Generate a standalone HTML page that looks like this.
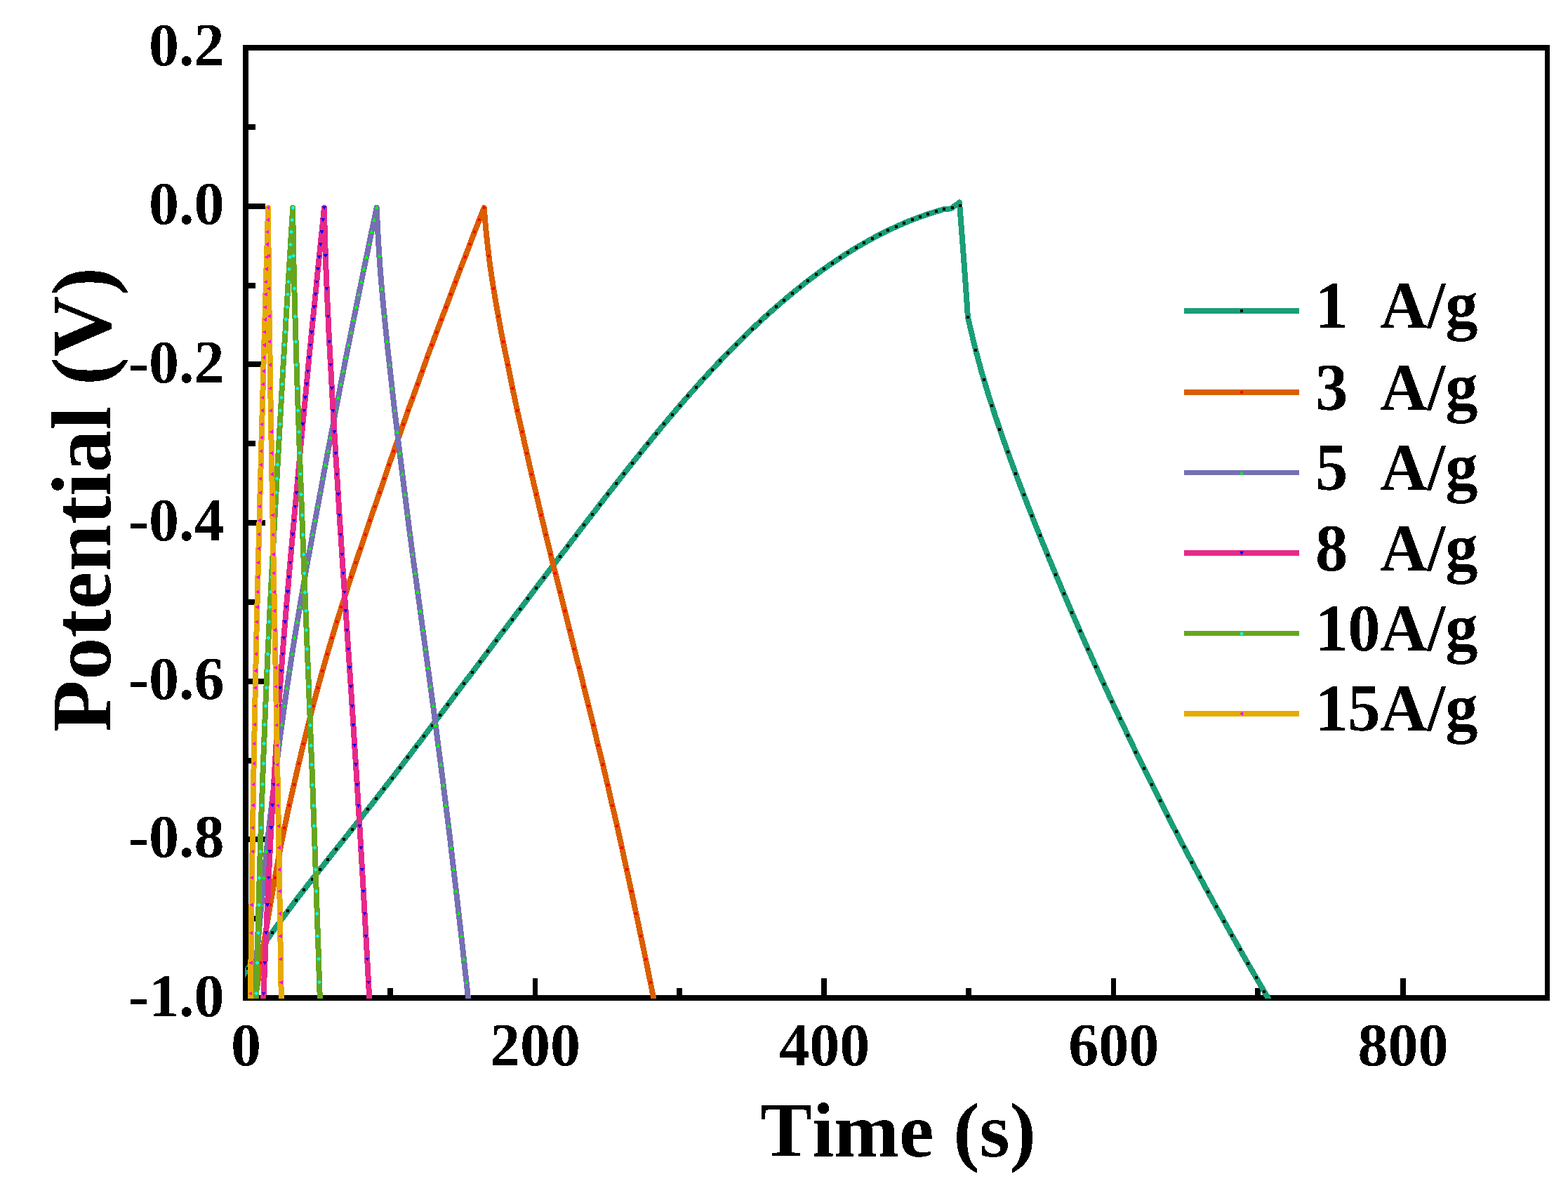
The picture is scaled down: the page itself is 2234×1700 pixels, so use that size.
<!DOCTYPE html>
<html lang="en"><head><meta charset="utf-8"><title>GCD curves</title>
<style>html,body{margin:0;padding:0;background:#fff}body{width:2234px;height:1700px;overflow:hidden}svg{display:block}text{font-family:"Liberation Serif",serif;font-weight:bold;fill:#000;filter:url(#al);font-kerning:none;font-variant-ligatures:none}.tk{font-size:86px}.lg{font-size:94.5px;white-space:pre}.tt{font-size:110px}.ty{font-size:121px}</style></head><body>
<svg width="2234" height="1700" viewBox="0 0 2234 1700" role="img" aria-label="Galvanostatic charge-discharge curves, Potential (V) versus Time (s)">
<rect width="2234" height="1700" fill="#fff"/>
<g shape-rendering="crispEdges" fill="#000">
<rect x="346" y="64" width="1862" height="8"/>
<rect x="346" y="1418" width="1862" height="8"/>
<rect x="346" y="64" width="8" height="1362"/>
<rect x="2201" y="64" width="7" height="1362"/>
<rect x="354" y="177" width="10" height="8"/>
<rect x="354" y="290" width="24" height="8"/>
<rect x="354" y="403" width="10" height="8"/>
<rect x="354" y="515" width="24" height="8"/>
<rect x="354" y="628" width="10" height="8"/>
<rect x="354" y="741" width="24" height="8"/>
<rect x="354" y="854" width="10" height="8"/>
<rect x="354" y="967" width="24" height="8"/>
<rect x="354" y="1080" width="10" height="8"/>
<rect x="354" y="1192" width="24" height="8"/>
<rect x="354" y="1305" width="10" height="8"/>
<rect x="552" y="1408" width="8" height="10"/>
<rect x="759" y="1394" width="7" height="24"/>
<rect x="964" y="1408" width="8" height="10"/>
<rect x="1170" y="1394" width="8" height="24"/>
<rect x="1376" y="1408" width="8" height="10"/>
<rect x="1583" y="1394" width="7" height="24"/>
<rect x="1788" y="1408" width="8" height="10"/>
<rect x="1995" y="1394" width="8" height="24"/>
</g>
<defs><filter id="al" x="-5%" y="-5%" width="110%" height="110%" color-interpolation-filters="sRGB"><feComponentTransfer><feFuncA type="discrete" tableValues="0 1"/></feComponentTransfer></filter><clipPath id="cp"><rect x="349" y="68" width="1856" height="1355"/></clipPath></defs>
<g clip-path="url(#cp)" shape-rendering="crispEdges">
<path d="M344.0 1393.4L352.9 1380.9L364.0 1363.5L375.2 1346.8L386.3 1330.8L397.5 1315.2L408.6 1300.1L419.8 1285.3L430.9 1270.8L442.1 1256.5L453.2 1242.4L464.4 1228.3L475.5 1214.3L486.7 1200.3L497.8 1186.3L509.0 1172.2L520.1 1158.1L531.3 1143.9L542.4 1129.7L553.5 1115.3L564.7 1100.8L575.8 1086.3L587.0 1071.7L598.1 1057.1L609.3 1042.4L620.4 1027.6L631.6 1012.9L642.7 998.1L653.9 983.3L665.0 968.5L676.2 953.7L687.3 938.9L698.5 924.1L709.6 909.3L720.8 894.5L731.9 879.8L743.1 865.1L754.2 850.3L765.3 835.6L776.5 821.0L787.6 806.3L798.8 791.7L809.9 777.1L821.1 762.5L832.2 748.0L843.4 733.5L854.5 719.1L865.7 704.7L876.8 690.5L888.0 676.3L899.1 662.2L910.3 648.3L921.4 634.5L932.6 620.8L943.7 607.4L954.8 594.1L966.0 581.0L977.1 568.1L988.3 555.4L999.4 543.0L1010.6 530.8L1021.7 518.9L1032.9 507.2L1044.0 495.8L1055.2 484.6L1066.3 473.7L1077.5 463.1L1088.6 452.8L1099.8 442.7L1110.9 433.0L1122.1 423.5L1133.2 414.3L1144.4 405.4L1155.5 396.8L1166.6 388.5L1177.8 380.5L1188.9 372.8L1200.1 365.4L1211.2 358.3L1222.4 351.5L1233.5 345.1L1244.7 338.9L1255.8 333.1L1267.0 327.6L1278.1 322.4L1289.3 317.5L1300.4 313.0L1311.6 308.8L1322.7 304.9L1333.9 301.4L1345.0 298.2L1355.0 297.3L1367.0 288.5L1373.0 367.1L1378.2 440.0L1378.8 451.5L1388.5 492.7L1398.2 529.0L1408.0 561.6L1417.7 591.8L1427.4 620.3L1437.1 647.6L1446.8 674.1L1456.6 699.9L1466.3 725.0L1476.0 749.7L1485.7 773.8L1495.4 797.6L1505.2 821.0L1514.9 844.0L1524.6 866.7L1534.3 889.1L1544.0 911.2L1553.8 933.0L1563.5 954.5L1573.2 975.8L1582.9 996.8L1592.6 1017.6L1602.4 1038.1L1612.1 1058.5L1621.8 1078.5L1631.5 1098.4L1641.3 1118.0L1651.0 1137.4L1660.7 1156.6L1670.4 1175.5L1680.1 1194.3L1689.9 1212.9L1699.6 1231.2L1709.3 1249.4L1719.0 1267.4L1728.7 1285.2L1738.5 1302.8L1748.2 1320.3L1757.9 1337.6L1767.6 1354.8L1777.3 1371.8L1787.1 1388.6L1796.8 1405.3L1806.5 1421.9L1811.5 1430.5" fill="none" stroke="#1b9e77" stroke-width="8" stroke-linejoin="round"/>
<rect x="1366.0" y="291.0" width="4" height="4" fill="#000000"/>
<rect x="1354.6" y="294.1" width="4" height="4" fill="#000000"/>
<rect x="1343.2" y="296.2" width="4" height="4" fill="#000000"/>
<rect x="1331.8" y="299.4" width="4" height="4" fill="#000000"/>
<rect x="1320.4" y="303.0" width="4" height="4" fill="#000000"/>
<rect x="1309.0" y="307.0" width="4" height="4" fill="#000000"/>
<rect x="1297.6" y="311.3" width="4" height="4" fill="#000000"/>
<rect x="1286.2" y="315.9" width="4" height="4" fill="#000000"/>
<rect x="1274.8" y="321.0" width="4" height="4" fill="#000000"/>
<rect x="1263.4" y="326.3" width="4" height="4" fill="#000000"/>
<rect x="1252.0" y="332.0" width="4" height="4" fill="#000000"/>
<rect x="1240.6" y="338.0" width="4" height="4" fill="#000000"/>
<rect x="1229.2" y="344.4" width="4" height="4" fill="#000000"/>
<rect x="1217.8" y="351.1" width="4" height="4" fill="#000000"/>
<rect x="1206.4" y="358.1" width="4" height="4" fill="#000000"/>
<rect x="1195.0" y="365.4" width="4" height="4" fill="#000000"/>
<rect x="1183.6" y="373.1" width="4" height="4" fill="#000000"/>
<rect x="1172.2" y="381.1" width="4" height="4" fill="#000000"/>
<rect x="1160.8" y="389.3" width="4" height="4" fill="#000000"/>
<rect x="1149.4" y="397.9" width="4" height="4" fill="#000000"/>
<rect x="1138.0" y="406.9" width="4" height="4" fill="#000000"/>
<rect x="1126.6" y="416.1" width="4" height="4" fill="#000000"/>
<rect x="1115.2" y="425.6" width="4" height="4" fill="#000000"/>
<rect x="1103.8" y="435.4" width="4" height="4" fill="#000000"/>
<rect x="1092.4" y="445.5" width="4" height="4" fill="#000000"/>
<rect x="1081.0" y="456.0" width="4" height="4" fill="#000000"/>
<rect x="1069.6" y="466.7" width="4" height="4" fill="#000000"/>
<rect x="1058.2" y="477.7" width="4" height="4" fill="#000000"/>
<rect x="1046.8" y="489.0" width="4" height="4" fill="#000000"/>
<rect x="1035.4" y="500.5" width="4" height="4" fill="#000000"/>
<rect x="1024.0" y="512.4" width="4" height="4" fill="#000000"/>
<rect x="1012.6" y="524.5" width="4" height="4" fill="#000000"/>
<rect x="1001.2" y="536.9" width="4" height="4" fill="#000000"/>
<rect x="989.8" y="549.5" width="4" height="4" fill="#000000"/>
<rect x="978.4" y="562.4" width="4" height="4" fill="#000000"/>
<rect x="967.0" y="575.5" width="4" height="4" fill="#000000"/>
<rect x="955.6" y="588.8" width="4" height="4" fill="#000000"/>
<rect x="944.2" y="602.4" width="4" height="4" fill="#000000"/>
<rect x="932.8" y="616.1" width="4" height="4" fill="#000000"/>
<rect x="921.4" y="630.0" width="4" height="4" fill="#000000"/>
<rect x="910.0" y="644.1" width="4" height="4" fill="#000000"/>
<rect x="898.6" y="658.4" width="4" height="4" fill="#000000"/>
<rect x="887.2" y="672.7" width="4" height="4" fill="#000000"/>
<rect x="875.8" y="687.2" width="4" height="4" fill="#000000"/>
<rect x="864.4" y="701.8" width="4" height="4" fill="#000000"/>
<rect x="853.0" y="716.5" width="4" height="4" fill="#000000"/>
<rect x="841.6" y="731.2" width="4" height="4" fill="#000000"/>
<rect x="830.2" y="746.0" width="4" height="4" fill="#000000"/>
<rect x="818.8" y="760.9" width="4" height="4" fill="#000000"/>
<rect x="807.4" y="775.8" width="4" height="4" fill="#000000"/>
<rect x="796.0" y="790.7" width="4" height="4" fill="#000000"/>
<rect x="784.6" y="805.7" width="4" height="4" fill="#000000"/>
<rect x="773.2" y="820.7" width="4" height="4" fill="#000000"/>
<rect x="761.8" y="835.7" width="4" height="4" fill="#000000"/>
<rect x="750.4" y="850.7" width="4" height="4" fill="#000000"/>
<rect x="739.0" y="865.8" width="4" height="4" fill="#000000"/>
<rect x="727.6" y="880.8" width="4" height="4" fill="#000000"/>
<rect x="716.2" y="895.9" width="4" height="4" fill="#000000"/>
<rect x="704.8" y="911.0" width="4" height="4" fill="#000000"/>
<rect x="693.4" y="926.1" width="4" height="4" fill="#000000"/>
<rect x="682.0" y="941.3" width="4" height="4" fill="#000000"/>
<rect x="670.6" y="956.4" width="4" height="4" fill="#000000"/>
<rect x="659.2" y="971.5" width="4" height="4" fill="#000000"/>
<rect x="647.8" y="986.7" width="4" height="4" fill="#000000"/>
<rect x="636.4" y="1001.8" width="4" height="4" fill="#000000"/>
<rect x="625.0" y="1016.9" width="4" height="4" fill="#000000"/>
<rect x="613.6" y="1032.0" width="4" height="4" fill="#000000"/>
<rect x="602.2" y="1047.1" width="4" height="4" fill="#000000"/>
<rect x="590.8" y="1062.1" width="4" height="4" fill="#000000"/>
<rect x="579.4" y="1077.0" width="4" height="4" fill="#000000"/>
<rect x="568.0" y="1091.9" width="4" height="4" fill="#000000"/>
<rect x="556.6" y="1106.8" width="4" height="4" fill="#000000"/>
<rect x="545.2" y="1121.5" width="4" height="4" fill="#000000"/>
<rect x="533.8" y="1136.1" width="4" height="4" fill="#000000"/>
<rect x="522.4" y="1150.7" width="4" height="4" fill="#000000"/>
<rect x="511.0" y="1165.1" width="4" height="4" fill="#000000"/>
<rect x="499.6" y="1179.5" width="4" height="4" fill="#000000"/>
<rect x="488.2" y="1193.9" width="4" height="4" fill="#000000"/>
<rect x="476.8" y="1208.2" width="4" height="4" fill="#000000"/>
<rect x="465.4" y="1222.5" width="4" height="4" fill="#000000"/>
<rect x="454.0" y="1236.9" width="4" height="4" fill="#000000"/>
<rect x="442.6" y="1251.3" width="4" height="4" fill="#000000"/>
<rect x="431.2" y="1265.9" width="4" height="4" fill="#000000"/>
<rect x="419.8" y="1280.7" width="4" height="4" fill="#000000"/>
<rect x="408.4" y="1295.7" width="4" height="4" fill="#000000"/>
<rect x="397.0" y="1311.2" width="4" height="4" fill="#000000"/>
<rect x="385.6" y="1327.0" width="4" height="4" fill="#000000"/>
<rect x="374.2" y="1343.4" width="4" height="4" fill="#000000"/>
<rect x="362.8" y="1360.4" width="4" height="4" fill="#000000"/>
<rect x="351.4" y="1378.1" width="4" height="4" fill="#000000"/>
<rect x="1376.8" y="449.5" width="4" height="4" fill="#000000"/>
<rect x="1388.2" y="497.4" width="4" height="4" fill="#000000"/>
<rect x="1399.6" y="538.7" width="4" height="4" fill="#000000"/>
<rect x="1411.0" y="575.6" width="4" height="4" fill="#000000"/>
<rect x="1422.4" y="609.7" width="4" height="4" fill="#000000"/>
<rect x="1433.9" y="642.1" width="4" height="4" fill="#000000"/>
<rect x="1445.3" y="673.2" width="4" height="4" fill="#000000"/>
<rect x="1456.7" y="703.4" width="4" height="4" fill="#000000"/>
<rect x="1468.1" y="732.7" width="4" height="4" fill="#000000"/>
<rect x="1479.5" y="761.4" width="4" height="4" fill="#000000"/>
<rect x="1490.9" y="789.4" width="4" height="4" fill="#000000"/>
<rect x="1502.3" y="817.0" width="4" height="4" fill="#000000"/>
<rect x="1513.7" y="844.0" width="4" height="4" fill="#000000"/>
<rect x="1525.1" y="870.6" width="4" height="4" fill="#000000"/>
<rect x="1536.5" y="896.7" width="4" height="4" fill="#000000"/>
<rect x="1548.0" y="922.5" width="4" height="4" fill="#000000"/>
<rect x="1559.4" y="947.8" width="4" height="4" fill="#000000"/>
<rect x="1570.8" y="972.9" width="4" height="4" fill="#000000"/>
<rect x="1582.2" y="997.5" width="4" height="4" fill="#000000"/>
<rect x="1593.6" y="1021.8" width="4" height="4" fill="#000000"/>
<rect x="1605.0" y="1045.8" width="4" height="4" fill="#000000"/>
<rect x="1616.4" y="1069.5" width="4" height="4" fill="#000000"/>
<rect x="1627.8" y="1092.9" width="4" height="4" fill="#000000"/>
<rect x="1639.2" y="1115.9" width="4" height="4" fill="#000000"/>
<rect x="1650.6" y="1138.7" width="4" height="4" fill="#000000"/>
<rect x="1662.1" y="1161.1" width="4" height="4" fill="#000000"/>
<rect x="1673.5" y="1183.3" width="4" height="4" fill="#000000"/>
<rect x="1684.9" y="1205.2" width="4" height="4" fill="#000000"/>
<rect x="1696.3" y="1226.8" width="4" height="4" fill="#000000"/>
<rect x="1707.7" y="1248.1" width="4" height="4" fill="#000000"/>
<rect x="1719.1" y="1269.2" width="4" height="4" fill="#000000"/>
<rect x="1730.5" y="1290.1" width="4" height="4" fill="#000000"/>
<rect x="1741.9" y="1310.7" width="4" height="4" fill="#000000"/>
<rect x="1753.3" y="1331.1" width="4" height="4" fill="#000000"/>
<rect x="1764.7" y="1351.2" width="4" height="4" fill="#000000"/>
<rect x="1776.2" y="1371.2" width="4" height="4" fill="#000000"/>
<rect x="1787.6" y="1390.9" width="4" height="4" fill="#000000"/>
<rect x="1799.0" y="1410.5" width="4" height="4" fill="#000000"/>
<path d="M362.3 1432.0L364.7 1416.0L367.2 1400.0L369.6 1384.0L372.1 1368.0L374.7 1352.0L377.2 1336.0L379.9 1320.0L382.6 1304.0L385.3 1288.0L388.1 1272.0L390.9 1256.0L393.7 1240.0L396.6 1224.0L399.6 1208.0L402.8 1192.0L406.1 1176.0L409.4 1160.0L412.9 1144.0L416.6 1128.0L420.2 1112.0L423.8 1096.0L427.6 1080.0L431.4 1064.0L435.3 1048.0L439.3 1032.0L443.4 1016.0L447.5 1000.0L451.8 984.0L456.1 968.0L460.6 952.0L465.1 936.0L469.8 920.0L474.5 904.0L479.3 888.0L484.3 872.0L489.4 856.0L494.5 840.0L499.6 824.0L504.8 808.0L510.2 792.0L515.6 776.0L521.0 760.0L526.4 744.0L531.8 728.0L537.4 712.0L542.9 696.0L548.3 680.0L553.7 664.0L559.3 648.0L564.9 632.0L570.6 616.0L576.2 600.0L581.7 584.0L587.6 568.0L593.4 552.0L599.1 536.0L604.8 520.0L610.5 504.0L616.6 488.0L622.5 472.0L628.5 456.0L634.6 440.0L640.6 424.0L646.7 408.0L652.6 392.0L658.7 376.0L665.0 360.0L671.0 344.0L677.1 328.0L683.4 312.0L689.7 296.0L691.0 312.0L692.4 328.0L694.1 344.0L695.9 360.0L697.9 376.0L700.2 392.0L702.7 408.0L705.3 424.0L708.1 440.0L711.0 456.0L713.9 472.0L717.0 488.0L720.3 504.0L723.6 520.0L726.8 536.0L730.0 552.0L733.4 568.0L736.8 584.0L740.4 600.0L744.0 616.0L747.5 632.0L751.1 648.0L754.7 664.0L758.4 680.0L762.1 696.0L765.9 712.0L769.6 728.0L773.4 744.0L777.2 760.0L781.1 776.0L785.0 792.0L789.0 808.0L793.1 824.0L797.1 840.0L801.1 856.0L805.2 872.0L809.1 888.0L813.1 904.0L817.1 920.0L821.2 936.0L825.3 952.0L829.3 968.0L833.2 984.0L837.1 1000.0L841.1 1016.0L845.1 1032.0L848.8 1048.0L852.6 1064.0L856.6 1080.0L860.5 1096.0L864.2 1112.0L867.9 1128.0L871.5 1144.0L875.3 1160.0L879.0 1176.0L882.6 1192.0L886.1 1208.0L889.5 1224.0L893.0 1240.0L896.5 1256.0L900.0 1272.0L903.4 1288.0L906.8 1304.0L910.2 1320.0L913.5 1336.0L916.9 1352.0L920.1 1368.0L923.4 1384.0L926.7 1400.0L929.9 1416.0L933.1 1432.0" fill="none" stroke="#d95f02" stroke-width="8" stroke-linejoin="round"/>
<circle cx="364.7" cy="1415.7" r="2.3" fill="#ff0000"/>
<circle cx="371.5" cy="1372" r="2.3" fill="#ff0000"/>
<circle cx="378.3" cy="1329.5" r="2.3" fill="#ff0000"/>
<circle cx="385.1" cy="1289.6" r="2.3" fill="#ff0000"/>
<circle cx="391.8" cy="1250.7" r="2.3" fill="#ff0000"/>
<circle cx="398.6" cy="1213.4" r="2.3" fill="#ff0000"/>
<circle cx="405.4" cy="1179.6" r="2.3" fill="#ff0000"/>
<circle cx="412.1" cy="1147.5" r="2.3" fill="#ff0000"/>
<circle cx="418.9" cy="1117.9" r="2.3" fill="#ff0000"/>
<circle cx="425.7" cy="1088" r="2.3" fill="#ff0000"/>
<circle cx="432.4" cy="1059.8" r="2.3" fill="#ff0000"/>
<circle cx="439.2" cy="1032.4" r="2.3" fill="#ff0000"/>
<circle cx="446.0" cy="1006" r="2.3" fill="#ff0000"/>
<circle cx="452.8" cy="980.3" r="2.3" fill="#ff0000"/>
<circle cx="459.5" cy="955.9" r="2.3" fill="#ff0000"/>
<circle cx="466.3" cy="932" r="2.3" fill="#ff0000"/>
<circle cx="473.1" cy="908.8" r="2.3" fill="#ff0000"/>
<circle cx="479.8" cy="886.3" r="2.3" fill="#ff0000"/>
<circle cx="486.6" cy="864.9" r="2.3" fill="#ff0000"/>
<circle cx="493.4" cy="843.5" r="2.3" fill="#ff0000"/>
<circle cx="500.1" cy="822.4" r="2.3" fill="#ff0000"/>
<circle cx="506.9" cy="801.7" r="2.3" fill="#ff0000"/>
<circle cx="513.7" cy="781.7" r="2.3" fill="#ff0000"/>
<circle cx="520.5" cy="761.5" r="2.3" fill="#ff0000"/>
<circle cx="527.2" cy="741.7" r="2.3" fill="#ff0000"/>
<circle cx="534.0" cy="721.7" r="2.3" fill="#ff0000"/>
<circle cx="540.8" cy="702.2" r="2.3" fill="#ff0000"/>
<circle cx="547.5" cy="682.2" r="2.3" fill="#ff0000"/>
<circle cx="554.3" cy="662.4" r="2.3" fill="#ff0000"/>
<circle cx="561.1" cy="642.9" r="2.3" fill="#ff0000"/>
<circle cx="567.8" cy="623.7" r="2.3" fill="#ff0000"/>
<circle cx="574.6" cy="604.6" r="2.3" fill="#ff0000"/>
<circle cx="581.4" cy="585" r="2.3" fill="#ff0000"/>
<circle cx="588.2" cy="566.6" r="2.3" fill="#ff0000"/>
<circle cx="594.9" cy="547.6" r="2.3" fill="#ff0000"/>
<circle cx="601.7" cy="528.8" r="2.3" fill="#ff0000"/>
<circle cx="608.5" cy="509.5" r="2.3" fill="#ff0000"/>
<circle cx="615.2" cy="491.7" r="2.3" fill="#ff0000"/>
<circle cx="622.0" cy="473.4" r="2.3" fill="#ff0000"/>
<circle cx="628.8" cy="455.4" r="2.3" fill="#ff0000"/>
<circle cx="635.5" cy="437.6" r="2.3" fill="#ff0000"/>
<circle cx="642.3" cy="419.5" r="2.3" fill="#ff0000"/>
<circle cx="649.1" cy="401.7" r="2.3" fill="#ff0000"/>
<circle cx="655.9" cy="383.3" r="2.3" fill="#ff0000"/>
<circle cx="662.6" cy="366.3" r="2.3" fill="#ff0000"/>
<circle cx="669.4" cy="348.2" r="2.3" fill="#ff0000"/>
<circle cx="676.2" cy="330.5" r="2.3" fill="#ff0000"/>
<circle cx="682.9" cy="313.3" r="2.3" fill="#ff0000"/>
<circle cx="689.7" cy="296" r="2.3" fill="#ff0000"/>
<circle cx="696.5" cy="364.6" r="2.3" fill="#ff0000"/>
<circle cx="703.2" cy="411.3" r="2.3" fill="#ff0000"/>
<circle cx="710.0" cy="450.7" r="2.3" fill="#ff0000"/>
<circle cx="716.8" cy="486.8" r="2.3" fill="#ff0000"/>
<circle cx="723.6" cy="520" r="2.3" fill="#ff0000"/>
<circle cx="730.3" cy="553.4" r="2.3" fill="#ff0000"/>
<circle cx="737.1" cy="585.2" r="2.3" fill="#ff0000"/>
<circle cx="743.9" cy="615.4" r="2.3" fill="#ff0000"/>
<circle cx="750.6" cy="645.9" r="2.3" fill="#ff0000"/>
<circle cx="757.4" cy="675.8" r="2.3" fill="#ff0000"/>
<circle cx="764.2" cy="704.6" r="2.3" fill="#ff0000"/>
<circle cx="770.9" cy="733.9" r="2.3" fill="#ff0000"/>
<circle cx="777.7" cy="762" r="2.3" fill="#ff0000"/>
<circle cx="784.5" cy="790" r="2.3" fill="#ff0000"/>
<circle cx="791.2" cy="816.8" r="2.3" fill="#ff0000"/>
<circle cx="798.0" cy="843.7" r="2.3" fill="#ff0000"/>
<circle cx="804.8" cy="870.5" r="2.3" fill="#ff0000"/>
<circle cx="811.6" cy="897.8" r="2.3" fill="#ff0000"/>
<circle cx="818.3" cy="924.8" r="2.3" fill="#ff0000"/>
<circle cx="825.1" cy="951.4" r="2.3" fill="#ff0000"/>
<circle cx="831.9" cy="978.5" r="2.3" fill="#ff0000"/>
<circle cx="838.6" cy="1006.1" r="2.3" fill="#ff0000"/>
<circle cx="845.4" cy="1033.4" r="2.3" fill="#ff0000"/>
<circle cx="852.2" cy="1062.3" r="2.3" fill="#ff0000"/>
<circle cx="859.0" cy="1089.6" r="2.3" fill="#ff0000"/>
<circle cx="865.7" cy="1118.6" r="2.3" fill="#ff0000"/>
<circle cx="872.5" cy="1148.1" r="2.3" fill="#ff0000"/>
<circle cx="879.3" cy="1177.1" r="2.3" fill="#ff0000"/>
<circle cx="886.0" cy="1207.9" r="2.3" fill="#ff0000"/>
<circle cx="892.8" cy="1239.1" r="2.3" fill="#ff0000"/>
<circle cx="899.6" cy="1270" r="2.3" fill="#ff0000"/>
<circle cx="906.3" cy="1301.9" r="2.3" fill="#ff0000"/>
<circle cx="913.1" cy="1334" r="2.3" fill="#ff0000"/>
<circle cx="919.9" cy="1366.7" r="2.3" fill="#ff0000"/>
<circle cx="926.7" cy="1399.9" r="2.3" fill="#ff0000"/>
<path d="M360.0 1432.0L361.3 1416.0L362.7 1400.0L364.0 1384.0L365.3 1368.0L366.7 1352.0L368.1 1336.0L369.5 1320.0L371.0 1304.0L372.5 1288.0L374.0 1272.0L375.5 1256.0L377.0 1240.0L378.6 1224.0L380.2 1208.0L381.9 1192.0L383.7 1176.0L385.5 1160.0L387.3 1144.0L389.3 1128.0L391.3 1112.0L393.2 1096.0L395.3 1080.0L397.3 1064.0L399.4 1048.0L401.6 1032.0L403.8 1016.0L406.0 1000.0L408.3 984.0L410.7 968.0L413.1 952.0L415.5 936.0L418.0 920.0L420.6 904.0L423.2 888.0L425.9 872.0L428.6 856.0L431.4 840.0L434.1 824.0L436.9 808.0L439.8 792.0L442.8 776.0L445.6 760.0L448.6 744.0L451.5 728.0L454.5 712.0L457.5 696.0L460.4 680.0L463.3 664.0L466.3 648.0L469.4 632.0L472.4 616.0L475.5 600.0L478.4 584.0L481.6 568.0L484.7 552.0L487.8 536.0L490.9 520.0L494.0 504.0L497.3 488.0L500.5 472.0L503.7 456.0L507.0 440.0L510.2 424.0L513.5 408.0L516.7 392.0L520.0 376.0L523.4 360.0L526.6 344.0L529.9 328.0L533.3 312.0L536.7 296.0L537.4 312.0L538.2 328.0L539.1 344.0L540.1 360.0L541.1 376.0L542.4 392.0L543.7 408.0L545.1 424.0L546.6 440.0L548.2 456.0L549.8 472.0L551.4 488.0L553.2 504.0L555.0 520.0L556.7 536.0L558.5 552.0L560.3 568.0L562.1 584.0L564.1 600.0L566.0 616.0L567.9 632.0L569.8 648.0L571.8 664.0L573.8 680.0L575.8 696.0L577.8 712.0L579.8 728.0L581.8 744.0L583.9 760.0L586.0 776.0L588.1 792.0L590.3 808.0L592.5 824.0L594.6 840.0L596.8 856.0L599.0 872.0L601.1 888.0L603.3 904.0L605.5 920.0L607.6 936.0L609.8 952.0L612.0 968.0L614.1 984.0L616.3 1000.0L618.4 1016.0L620.5 1032.0L622.6 1048.0L624.6 1064.0L626.7 1080.0L628.8 1096.0L630.9 1112.0L632.8 1128.0L634.8 1144.0L636.8 1160.0L638.8 1176.0L640.8 1192.0L642.6 1208.0L644.5 1224.0L646.4 1240.0L648.3 1256.0L650.2 1272.0L652.0 1288.0L653.8 1304.0L655.7 1320.0L657.5 1336.0L659.3 1352.0L661.0 1368.0L662.8 1384.0L664.6 1400.0L666.3 1416.0L668.0 1432.0" fill="none" stroke="#7570b3" stroke-width="8" stroke-linejoin="round"/>
<path d="M358.4 1417.9L364.4 1417.9L361.4 1412.7Z" fill="#00ff00"/>
<path d="M362.0 1374.2L368.0 1374.2L365.0 1369.0Z" fill="#00ff00"/>
<path d="M365.7 1331.7L371.7 1331.7L368.7 1326.5Z" fill="#00ff00"/>
<path d="M369.3 1291.8L375.3 1291.8L372.3 1286.6Z" fill="#00ff00"/>
<path d="M373.0 1252.9L379.0 1252.9L376.0 1247.7Z" fill="#00ff00"/>
<path d="M376.6 1215.6L382.6 1215.6L379.6 1210.4Z" fill="#00ff00"/>
<path d="M380.3 1181.8L386.3 1181.8L383.3 1176.6Z" fill="#00ff00"/>
<path d="M383.9 1149.7L389.9 1149.7L386.9 1144.5Z" fill="#00ff00"/>
<path d="M387.6 1120.1L393.6 1120.1L390.6 1114.9Z" fill="#00ff00"/>
<path d="M391.2 1090.2L397.2 1090.2L394.2 1085.0Z" fill="#00ff00"/>
<path d="M394.9 1062.0L400.9 1062.0L397.9 1056.8Z" fill="#00ff00"/>
<path d="M398.5 1034.6L404.5 1034.6L401.5 1029.4Z" fill="#00ff00"/>
<path d="M402.2 1008.2L408.2 1008.2L405.2 1003.0Z" fill="#00ff00"/>
<path d="M405.8 982.5L411.8 982.5L408.8 977.3Z" fill="#00ff00"/>
<path d="M409.5 958.1L415.5 958.1L412.5 952.9Z" fill="#00ff00"/>
<path d="M413.2 934.2L419.2 934.2L416.2 929.0Z" fill="#00ff00"/>
<path d="M416.8 911.0L422.8 911.0L419.8 905.8Z" fill="#00ff00"/>
<path d="M420.5 888.5L426.5 888.5L423.5 883.3Z" fill="#00ff00"/>
<path d="M424.1 867.1L430.1 867.1L427.1 861.9Z" fill="#00ff00"/>
<path d="M427.8 845.7L433.8 845.7L430.8 840.5Z" fill="#00ff00"/>
<path d="M431.4 824.6L437.4 824.6L434.4 819.4Z" fill="#00ff00"/>
<path d="M435.1 803.9L441.1 803.9L438.1 798.7Z" fill="#00ff00"/>
<path d="M438.7 783.9L444.7 783.9L441.7 778.7Z" fill="#00ff00"/>
<path d="M442.4 763.7L448.4 763.7L445.4 758.5Z" fill="#00ff00"/>
<path d="M446.0 743.9L452.0 743.9L449.0 738.7Z" fill="#00ff00"/>
<path d="M449.7 723.9L455.7 723.9L452.7 718.7Z" fill="#00ff00"/>
<path d="M453.3 704.4L459.3 704.4L456.3 699.2Z" fill="#00ff00"/>
<path d="M457.0 684.4L463.0 684.4L460.0 679.2Z" fill="#00ff00"/>
<path d="M460.6 664.6L466.6 664.6L463.6 659.4Z" fill="#00ff00"/>
<path d="M464.3 645.1L470.3 645.1L467.3 639.9Z" fill="#00ff00"/>
<path d="M467.9 625.9L473.9 625.9L470.9 620.7Z" fill="#00ff00"/>
<path d="M471.6 606.8L477.6 606.8L474.6 601.6Z" fill="#00ff00"/>
<path d="M475.3 587.2L481.3 587.2L478.3 582.0Z" fill="#00ff00"/>
<path d="M478.9 568.8L484.9 568.8L481.9 563.6Z" fill="#00ff00"/>
<path d="M482.6 549.8L488.6 549.8L485.6 544.6Z" fill="#00ff00"/>
<path d="M486.2 531.0L492.2 531.0L489.2 525.8Z" fill="#00ff00"/>
<path d="M489.9 511.7L495.9 511.7L492.9 506.5Z" fill="#00ff00"/>
<path d="M493.5 493.9L499.5 493.9L496.5 488.7Z" fill="#00ff00"/>
<path d="M497.2 475.6L503.2 475.6L500.2 470.4Z" fill="#00ff00"/>
<path d="M500.8 457.6L506.8 457.6L503.8 452.4Z" fill="#00ff00"/>
<path d="M504.5 439.8L510.5 439.8L507.5 434.6Z" fill="#00ff00"/>
<path d="M508.1 421.7L514.1 421.7L511.1 416.5Z" fill="#00ff00"/>
<path d="M511.8 403.9L517.8 403.9L514.8 398.7Z" fill="#00ff00"/>
<path d="M515.4 385.5L521.4 385.5L518.4 380.3Z" fill="#00ff00"/>
<path d="M519.1 368.5L525.1 368.5L522.1 363.3Z" fill="#00ff00"/>
<path d="M522.7 350.4L528.7 350.4L525.7 345.2Z" fill="#00ff00"/>
<path d="M526.4 332.7L532.4 332.7L529.4 327.5Z" fill="#00ff00"/>
<path d="M530.0 315.5L536.0 315.5L533.0 310.3Z" fill="#00ff00"/>
<path d="M533.7 298.2L539.7 298.2L536.7 293.0Z" fill="#00ff00"/>
<path d="M537.4 366.8L543.4 366.8L540.4 361.6Z" fill="#00ff00"/>
<path d="M541.0 413.5L547.0 413.5L544.0 408.3Z" fill="#00ff00"/>
<path d="M544.7 452.9L550.7 452.9L547.7 447.7Z" fill="#00ff00"/>
<path d="M548.3 489.0L554.3 489.0L551.3 483.8Z" fill="#00ff00"/>
<path d="M552.0 522.2L558.0 522.2L555.0 517.0Z" fill="#00ff00"/>
<path d="M555.6 555.6L561.6 555.6L558.6 550.4Z" fill="#00ff00"/>
<path d="M559.3 587.4L565.3 587.4L562.3 582.2Z" fill="#00ff00"/>
<path d="M562.9 617.6L568.9 617.6L565.9 612.4Z" fill="#00ff00"/>
<path d="M566.6 648.1L572.6 648.1L569.6 642.9Z" fill="#00ff00"/>
<path d="M570.2 678.0L576.2 678.0L573.2 672.8Z" fill="#00ff00"/>
<path d="M573.9 706.8L579.9 706.8L576.9 701.6Z" fill="#00ff00"/>
<path d="M577.5 736.1L583.5 736.1L580.5 730.9Z" fill="#00ff00"/>
<path d="M581.2 764.2L587.2 764.2L584.2 759.0Z" fill="#00ff00"/>
<path d="M584.8 792.2L590.8 792.2L587.8 787.0Z" fill="#00ff00"/>
<path d="M588.5 819.0L594.5 819.0L591.5 813.8Z" fill="#00ff00"/>
<path d="M592.1 845.9L598.1 845.9L595.1 840.7Z" fill="#00ff00"/>
<path d="M595.8 872.7L601.8 872.7L598.8 867.5Z" fill="#00ff00"/>
<path d="M599.5 900.0L605.5 900.0L602.5 894.8Z" fill="#00ff00"/>
<path d="M603.1 927.0L609.1 927.0L606.1 921.8Z" fill="#00ff00"/>
<path d="M606.8 953.6L612.8 953.6L609.8 948.4Z" fill="#00ff00"/>
<path d="M610.4 980.7L616.4 980.7L613.4 975.5Z" fill="#00ff00"/>
<path d="M614.1 1008.3L620.1 1008.3L617.1 1003.1Z" fill="#00ff00"/>
<path d="M617.7 1035.6L623.7 1035.6L620.7 1030.4Z" fill="#00ff00"/>
<path d="M621.4 1064.5L627.4 1064.5L624.4 1059.3Z" fill="#00ff00"/>
<path d="M625.0 1091.8L631.0 1091.8L628.0 1086.6Z" fill="#00ff00"/>
<path d="M628.7 1120.8L634.7 1120.8L631.7 1115.6Z" fill="#00ff00"/>
<path d="M632.3 1150.3L638.3 1150.3L635.3 1145.1Z" fill="#00ff00"/>
<path d="M636.0 1179.3L642.0 1179.3L639.0 1174.1Z" fill="#00ff00"/>
<path d="M639.6 1210.1L645.6 1210.1L642.6 1204.9Z" fill="#00ff00"/>
<path d="M643.3 1241.3L649.3 1241.3L646.3 1236.1Z" fill="#00ff00"/>
<path d="M646.9 1272.2L652.9 1272.2L649.9 1267.0Z" fill="#00ff00"/>
<path d="M650.6 1304.1L656.6 1304.1L653.6 1298.9Z" fill="#00ff00"/>
<path d="M654.2 1336.2L660.2 1336.2L657.2 1331.0Z" fill="#00ff00"/>
<path d="M657.9 1368.9L663.9 1368.9L660.9 1363.7Z" fill="#00ff00"/>
<path d="M661.6 1402.1L667.6 1402.1L664.6 1396.9Z" fill="#00ff00"/>
<path d="M374.9 1432.0L375.6 1416.0L376.2 1400.0L376.9 1384.0L377.6 1368.0L378.2 1352.0L378.9 1336.0L379.6 1320.0L380.3 1304.0L381.1 1288.0L381.8 1272.0L382.6 1256.0L383.3 1240.0L384.1 1224.0L384.9 1208.0L385.7 1192.0L386.6 1176.0L387.5 1160.0L388.4 1144.0L389.4 1128.0L390.4 1112.0L391.3 1096.0L392.3 1080.0L393.3 1064.0L394.4 1048.0L395.4 1032.0L396.5 1016.0L397.6 1000.0L398.7 984.0L399.9 968.0L401.1 952.0L402.3 936.0L403.5 920.0L404.8 904.0L406.1 888.0L407.4 872.0L408.7 856.0L410.1 840.0L411.5 824.0L412.8 808.0L414.3 792.0L415.7 776.0L417.1 760.0L418.6 744.0L420.0 728.0L421.5 712.0L423.0 696.0L424.4 680.0L425.9 664.0L427.3 648.0L428.8 632.0L430.3 616.0L431.8 600.0L433.3 584.0L434.9 568.0L436.4 552.0L437.9 536.0L439.4 520.0L440.9 504.0L442.6 488.0L444.1 472.0L445.7 456.0L447.4 440.0L449.0 424.0L450.6 408.0L452.1 392.0L453.8 376.0L455.4 360.0L457.0 344.0L458.7 328.0L460.3 312.0L462.0 296.0L462.3 312.0L462.7 328.0L463.2 344.0L463.7 360.0L464.2 376.0L464.8 392.0L465.5 408.0L466.2 424.0L466.9 440.0L467.7 456.0L468.4 472.0L469.3 488.0L470.1 504.0L471.0 520.0L471.9 536.0L472.7 552.0L473.6 568.0L474.5 584.0L475.5 600.0L476.4 616.0L477.4 632.0L478.3 648.0L479.3 664.0L480.3 680.0L481.3 696.0L482.3 712.0L483.2 728.0L484.2 744.0L485.3 760.0L486.3 776.0L487.3 792.0L488.4 808.0L489.5 824.0L490.6 840.0L491.6 856.0L492.7 872.0L493.8 888.0L494.8 904.0L495.9 920.0L497.0 936.0L498.0 952.0L499.1 968.0L500.2 984.0L501.2 1000.0L502.3 1016.0L503.3 1032.0L504.3 1048.0L505.3 1064.0L506.4 1080.0L507.4 1096.0L508.4 1112.0L509.4 1128.0L510.3 1144.0L511.3 1160.0L512.3 1176.0L513.3 1192.0L514.2 1208.0L515.1 1224.0L516.1 1240.0L517.0 1256.0L517.9 1272.0L518.8 1288.0L519.7 1304.0L520.6 1320.0L521.5 1336.0L522.4 1352.0L523.3 1368.0L524.1 1384.0L525.0 1400.0L525.9 1416.0L526.7 1432.0" fill="none" stroke="#e7298a" stroke-width="8" stroke-linejoin="round"/>
<path d="M372.6 1413.5L378.6 1413.5L375.6 1418.7Z" fill="#0000ff"/>
<path d="M374.4 1369.8L380.4 1369.8L377.4 1375.0Z" fill="#0000ff"/>
<path d="M376.2 1327.3L382.2 1327.3L379.2 1332.5Z" fill="#0000ff"/>
<path d="M378.0 1287.4L384.0 1287.4L381.0 1292.6Z" fill="#0000ff"/>
<path d="M379.8 1248.5L385.8 1248.5L382.8 1253.7Z" fill="#0000ff"/>
<path d="M381.6 1211.2L387.6 1211.2L384.6 1216.4Z" fill="#0000ff"/>
<path d="M383.4 1177.4L389.4 1177.4L386.4 1182.6Z" fill="#0000ff"/>
<path d="M385.2 1145.3L391.2 1145.3L388.2 1150.5Z" fill="#0000ff"/>
<path d="M387.0 1115.7L393.0 1115.7L390.0 1120.9Z" fill="#0000ff"/>
<path d="M388.8 1085.8L394.8 1085.8L391.8 1091.0Z" fill="#0000ff"/>
<path d="M390.6 1057.6L396.6 1057.6L393.6 1062.8Z" fill="#0000ff"/>
<path d="M392.4 1030.2L398.4 1030.2L395.4 1035.4Z" fill="#0000ff"/>
<path d="M394.2 1003.8L400.2 1003.8L397.2 1009.0Z" fill="#0000ff"/>
<path d="M396.0 978.1L402.0 978.1L399.0 983.3Z" fill="#0000ff"/>
<path d="M397.8 953.7L403.8 953.7L400.8 958.9Z" fill="#0000ff"/>
<path d="M399.6 929.8L405.6 929.8L402.6 935.0Z" fill="#0000ff"/>
<path d="M401.4 906.6L407.4 906.6L404.4 911.8Z" fill="#0000ff"/>
<path d="M403.2 884.1L409.2 884.1L406.2 889.3Z" fill="#0000ff"/>
<path d="M405.0 862.7L411.0 862.7L408.0 867.9Z" fill="#0000ff"/>
<path d="M406.8 841.3L412.8 841.3L409.8 846.5Z" fill="#0000ff"/>
<path d="M408.6 820.2L414.6 820.2L411.6 825.4Z" fill="#0000ff"/>
<path d="M410.4 799.5L416.4 799.5L413.4 804.7Z" fill="#0000ff"/>
<path d="M412.2 779.5L418.2 779.5L415.2 784.7Z" fill="#0000ff"/>
<path d="M414.0 759.3L420.0 759.3L417.0 764.5Z" fill="#0000ff"/>
<path d="M415.8 739.5L421.8 739.5L418.8 744.7Z" fill="#0000ff"/>
<path d="M417.6 719.5L423.6 719.5L420.6 724.7Z" fill="#0000ff"/>
<path d="M419.4 700.0L425.4 700.0L422.4 705.2Z" fill="#0000ff"/>
<path d="M421.2 680.0L427.2 680.0L424.2 685.2Z" fill="#0000ff"/>
<path d="M423.0 660.2L429.0 660.2L426.0 665.4Z" fill="#0000ff"/>
<path d="M424.8 640.7L430.8 640.7L427.8 645.9Z" fill="#0000ff"/>
<path d="M426.6 621.5L432.6 621.5L429.6 626.7Z" fill="#0000ff"/>
<path d="M428.4 602.4L434.4 602.4L431.4 607.6Z" fill="#0000ff"/>
<path d="M430.2 582.8L436.2 582.8L433.2 588.0Z" fill="#0000ff"/>
<path d="M432.0 564.4L438.0 564.4L435.0 569.6Z" fill="#0000ff"/>
<path d="M433.8 545.4L439.8 545.4L436.8 550.6Z" fill="#0000ff"/>
<path d="M435.6 526.6L441.6 526.6L438.6 531.8Z" fill="#0000ff"/>
<path d="M437.4 507.3L443.4 507.3L440.4 512.5Z" fill="#0000ff"/>
<path d="M439.2 489.5L445.2 489.5L442.2 494.7Z" fill="#0000ff"/>
<path d="M441.0 471.2L447.0 471.2L444.0 476.4Z" fill="#0000ff"/>
<path d="M442.8 453.2L448.8 453.2L445.8 458.4Z" fill="#0000ff"/>
<path d="M444.6 435.4L450.6 435.4L447.6 440.6Z" fill="#0000ff"/>
<path d="M446.4 417.3L452.4 417.3L449.4 422.5Z" fill="#0000ff"/>
<path d="M448.2 399.5L454.2 399.5L451.2 404.7Z" fill="#0000ff"/>
<path d="M450.0 381.1L456.0 381.1L453.0 386.3Z" fill="#0000ff"/>
<path d="M451.8 364.1L457.8 364.1L454.8 369.3Z" fill="#0000ff"/>
<path d="M453.6 346.0L459.6 346.0L456.6 351.2Z" fill="#0000ff"/>
<path d="M455.4 328.3L461.4 328.3L458.4 333.5Z" fill="#0000ff"/>
<path d="M457.2 311.1L463.2 311.1L460.2 316.3Z" fill="#0000ff"/>
<path d="M459.0 293.8L465.0 293.8L462.0 299.0Z" fill="#0000ff"/>
<path d="M460.8 362.4L466.8 362.4L463.8 367.6Z" fill="#0000ff"/>
<path d="M462.6 409.1L468.6 409.1L465.6 414.3Z" fill="#0000ff"/>
<path d="M464.4 448.5L470.4 448.5L467.4 453.7Z" fill="#0000ff"/>
<path d="M466.2 484.6L472.2 484.6L469.2 489.8Z" fill="#0000ff"/>
<path d="M468.0 517.8L474.0 517.8L471.0 523.0Z" fill="#0000ff"/>
<path d="M469.8 551.2L475.8 551.2L472.8 556.4Z" fill="#0000ff"/>
<path d="M471.6 583.0L477.6 583.0L474.6 588.2Z" fill="#0000ff"/>
<path d="M473.4 613.2L479.4 613.2L476.4 618.4Z" fill="#0000ff"/>
<path d="M475.2 643.7L481.2 643.7L478.2 648.9Z" fill="#0000ff"/>
<path d="M477.0 673.6L483.0 673.6L480.0 678.8Z" fill="#0000ff"/>
<path d="M478.8 702.4L484.8 702.4L481.8 707.6Z" fill="#0000ff"/>
<path d="M480.6 731.7L486.6 731.7L483.6 736.9Z" fill="#0000ff"/>
<path d="M482.4 759.8L488.4 759.8L485.4 765.0Z" fill="#0000ff"/>
<path d="M484.2 787.8L490.2 787.8L487.2 793.0Z" fill="#0000ff"/>
<path d="M486.0 814.6L492.0 814.6L489.0 819.8Z" fill="#0000ff"/>
<path d="M487.8 841.5L493.8 841.5L490.8 846.7Z" fill="#0000ff"/>
<path d="M489.6 868.3L495.6 868.3L492.6 873.5Z" fill="#0000ff"/>
<path d="M491.4 895.6L497.4 895.6L494.4 900.8Z" fill="#0000ff"/>
<path d="M493.2 922.6L499.2 922.6L496.2 927.8Z" fill="#0000ff"/>
<path d="M495.0 949.2L501.0 949.2L498.0 954.4Z" fill="#0000ff"/>
<path d="M496.8 976.3L502.8 976.3L499.8 981.5Z" fill="#0000ff"/>
<path d="M498.6 1003.9L504.6 1003.9L501.6 1009.1Z" fill="#0000ff"/>
<path d="M500.4 1031.2L506.4 1031.2L503.4 1036.4Z" fill="#0000ff"/>
<path d="M502.2 1060.1L508.2 1060.1L505.2 1065.3Z" fill="#0000ff"/>
<path d="M504.0 1087.4L510.0 1087.4L507.0 1092.6Z" fill="#0000ff"/>
<path d="M505.8 1116.4L511.8 1116.4L508.8 1121.6Z" fill="#0000ff"/>
<path d="M507.6 1145.9L513.6 1145.9L510.6 1151.1Z" fill="#0000ff"/>
<path d="M509.4 1174.9L515.4 1174.9L512.4 1180.1Z" fill="#0000ff"/>
<path d="M511.2 1205.7L517.2 1205.7L514.2 1210.9Z" fill="#0000ff"/>
<path d="M513.0 1236.9L519.0 1236.9L516.0 1242.1Z" fill="#0000ff"/>
<path d="M514.8 1267.8L520.8 1267.8L517.8 1273.0Z" fill="#0000ff"/>
<path d="M516.6 1299.7L522.6 1299.7L519.6 1304.9Z" fill="#0000ff"/>
<path d="M518.4 1331.8L524.4 1331.8L521.4 1337.0Z" fill="#0000ff"/>
<path d="M520.2 1364.5L526.2 1364.5L523.2 1369.7Z" fill="#0000ff"/>
<path d="M522.0 1397.7L528.0 1397.7L525.0 1402.9Z" fill="#0000ff"/>
<path d="M364.9 1432.0L365.3 1416.0L365.7 1400.0L366.1 1384.0L366.5 1368.0L366.9 1352.0L367.3 1336.0L367.7 1320.0L368.2 1304.0L368.6 1288.0L369.0 1272.0L369.5 1256.0L369.9 1240.0L370.4 1224.0L370.9 1208.0L371.4 1192.0L371.9 1176.0L372.4 1160.0L373.0 1144.0L373.6 1128.0L374.2 1112.0L374.7 1096.0L375.3 1080.0L376.0 1064.0L376.6 1048.0L377.2 1032.0L377.9 1016.0L378.5 1000.0L379.2 984.0L379.9 968.0L380.6 952.0L381.3 936.0L382.1 920.0L382.8 904.0L383.6 888.0L384.4 872.0L385.2 856.0L386.0 840.0L386.8 824.0L387.7 808.0L388.5 792.0L389.4 776.0L390.3 760.0L391.1 744.0L392.0 728.0L392.9 712.0L393.8 696.0L394.6 680.0L395.5 664.0L396.4 648.0L397.3 632.0L398.2 616.0L399.1 600.0L400.0 584.0L400.9 568.0L401.8 552.0L402.7 536.0L403.6 520.0L404.6 504.0L405.5 488.0L406.5 472.0L407.4 456.0L408.4 440.0L409.4 424.0L410.3 408.0L411.3 392.0L412.3 376.0L413.3 360.0L414.2 344.0L415.2 328.0L416.2 312.0L417.2 296.0L417.4 312.0L417.6 328.0L417.9 344.0L418.2 360.0L418.5 376.0L418.9 392.0L419.3 408.0L419.7 424.0L420.1 440.0L420.6 456.0L421.1 472.0L421.6 488.0L422.1 504.0L422.6 520.0L423.1 536.0L423.6 552.0L424.2 568.0L424.7 584.0L425.3 600.0L425.9 616.0L426.4 632.0L427.0 648.0L427.6 664.0L428.2 680.0L428.8 696.0L429.4 712.0L430.0 728.0L430.6 744.0L431.2 760.0L431.8 776.0L432.4 792.0L433.1 808.0L433.7 824.0L434.3 840.0L435.0 856.0L435.6 872.0L436.3 888.0L436.9 904.0L437.5 920.0L438.2 936.0L438.8 952.0L439.5 968.0L440.1 984.0L440.7 1000.0L441.4 1016.0L442.0 1032.0L442.6 1048.0L443.2 1064.0L443.8 1080.0L444.5 1096.0L445.1 1112.0L445.7 1128.0L446.2 1144.0L446.8 1160.0L447.4 1176.0L448.0 1192.0L448.6 1208.0L449.1 1224.0L449.7 1240.0L450.2 1256.0L450.8 1272.0L451.3 1288.0L451.9 1304.0L452.4 1320.0L452.9 1336.0L453.5 1352.0L454.0 1368.0L454.5 1384.0L455.0 1400.0L455.6 1416.0L456.1 1432.0" fill="none" stroke="#66a61e" stroke-width="8" stroke-linejoin="round"/>
<path d="M362.3 1415.7L365.3 1412.7L368.3 1415.7L365.3 1418.7Z" fill="#00ffff"/>
<path d="M363.4 1372L366.4 1369.0L369.4 1372L366.4 1375.0Z" fill="#00ffff"/>
<path d="M364.5 1329.5L367.5 1326.5L370.5 1329.5L367.5 1332.5Z" fill="#00ffff"/>
<path d="M365.6 1289.6L368.6 1286.6L371.6 1289.6L368.6 1292.6Z" fill="#00ffff"/>
<path d="M366.6 1250.7L369.6 1247.7L372.6 1250.7L369.6 1253.7Z" fill="#00ffff"/>
<path d="M367.7 1213.4L370.7 1210.4L373.7 1213.4L370.7 1216.4Z" fill="#00ffff"/>
<path d="M368.8 1179.6L371.8 1176.6L374.8 1179.6L371.8 1182.6Z" fill="#00ffff"/>
<path d="M369.9 1147.5L372.9 1144.5L375.9 1147.5L372.9 1150.5Z" fill="#00ffff"/>
<path d="M371.0 1117.9L374.0 1114.9L377.0 1117.9L374.0 1120.9Z" fill="#00ffff"/>
<path d="M372.0 1088L375.0 1085.0L378.0 1088L375.0 1091.0Z" fill="#00ffff"/>
<path d="M373.1 1059.8L376.1 1056.8L379.1 1059.8L376.1 1062.8Z" fill="#00ffff"/>
<path d="M374.2 1032.4L377.2 1029.4L380.2 1032.4L377.2 1035.4Z" fill="#00ffff"/>
<path d="M375.3 1006L378.3 1003.0L381.3 1006L378.3 1009.0Z" fill="#00ffff"/>
<path d="M376.4 980.3L379.4 977.3L382.4 980.3L379.4 983.3Z" fill="#00ffff"/>
<path d="M377.4 955.9L380.4 952.9L383.4 955.9L380.4 958.9Z" fill="#00ffff"/>
<path d="M378.5 932L381.5 929.0L384.5 932L381.5 935.0Z" fill="#00ffff"/>
<path d="M379.6 908.8L382.6 905.8L385.6 908.8L382.6 911.8Z" fill="#00ffff"/>
<path d="M380.7 886.3L383.7 883.3L386.7 886.3L383.7 889.3Z" fill="#00ffff"/>
<path d="M381.8 864.9L384.8 861.9L387.8 864.9L384.8 867.9Z" fill="#00ffff"/>
<path d="M382.9 843.5L385.9 840.5L388.9 843.5L385.9 846.5Z" fill="#00ffff"/>
<path d="M383.9 822.4L386.9 819.4L389.9 822.4L386.9 825.4Z" fill="#00ffff"/>
<path d="M385.0 801.7L388.0 798.7L391.0 801.7L388.0 804.7Z" fill="#00ffff"/>
<path d="M386.1 781.7L389.1 778.7L392.1 781.7L389.1 784.7Z" fill="#00ffff"/>
<path d="M387.2 761.5L390.2 758.5L393.2 761.5L390.2 764.5Z" fill="#00ffff"/>
<path d="M388.3 741.7L391.3 738.7L394.3 741.7L391.3 744.7Z" fill="#00ffff"/>
<path d="M389.3 721.7L392.3 718.7L395.3 721.7L392.3 724.7Z" fill="#00ffff"/>
<path d="M390.4 702.2L393.4 699.2L396.4 702.2L393.4 705.2Z" fill="#00ffff"/>
<path d="M391.5 682.2L394.5 679.2L397.5 682.2L394.5 685.2Z" fill="#00ffff"/>
<path d="M392.6 662.4L395.6 659.4L398.6 662.4L395.6 665.4Z" fill="#00ffff"/>
<path d="M393.7 642.9L396.7 639.9L399.7 642.9L396.7 645.9Z" fill="#00ffff"/>
<path d="M394.7 623.7L397.7 620.7L400.7 623.7L397.7 626.7Z" fill="#00ffff"/>
<path d="M395.8 604.6L398.8 601.6L401.8 604.6L398.8 607.6Z" fill="#00ffff"/>
<path d="M396.9 585L399.9 582.0L402.9 585L399.9 588.0Z" fill="#00ffff"/>
<path d="M398.0 566.6L401.0 563.6L404.0 566.6L401.0 569.6Z" fill="#00ffff"/>
<path d="M399.1 547.6L402.1 544.6L405.1 547.6L402.1 550.6Z" fill="#00ffff"/>
<path d="M400.1 528.8L403.1 525.8L406.1 528.8L403.1 531.8Z" fill="#00ffff"/>
<path d="M401.2 509.5L404.2 506.5L407.2 509.5L404.2 512.5Z" fill="#00ffff"/>
<path d="M402.3 491.7L405.3 488.7L408.3 491.7L405.3 494.7Z" fill="#00ffff"/>
<path d="M403.4 473.4L406.4 470.4L409.4 473.4L406.4 476.4Z" fill="#00ffff"/>
<path d="M404.5 455.4L407.5 452.4L410.5 455.4L407.5 458.4Z" fill="#00ffff"/>
<path d="M405.6 437.6L408.6 434.6L411.6 437.6L408.6 440.6Z" fill="#00ffff"/>
<path d="M406.6 419.5L409.6 416.5L412.6 419.5L409.6 422.5Z" fill="#00ffff"/>
<path d="M407.7 401.7L410.7 398.7L413.7 401.7L410.7 404.7Z" fill="#00ffff"/>
<path d="M408.8 383.3L411.8 380.3L414.8 383.3L411.8 386.3Z" fill="#00ffff"/>
<path d="M409.9 366.3L412.9 363.3L415.9 366.3L412.9 369.3Z" fill="#00ffff"/>
<path d="M411.0 348.2L414.0 345.2L417.0 348.2L414.0 351.2Z" fill="#00ffff"/>
<path d="M412.0 330.5L415.0 327.5L418.0 330.5L415.0 333.5Z" fill="#00ffff"/>
<path d="M413.1 313.3L416.1 310.3L419.1 313.3L416.1 316.3Z" fill="#00ffff"/>
<path d="M414.2 296L417.2 293.0L420.2 296L417.2 299.0Z" fill="#00ffff"/>
<path d="M415.3 364.6L418.3 361.6L421.3 364.6L418.3 367.6Z" fill="#00ffff"/>
<path d="M416.4 411.3L419.4 408.3L422.4 411.3L419.4 414.3Z" fill="#00ffff"/>
<path d="M417.4 450.7L420.4 447.7L423.4 450.7L420.4 453.7Z" fill="#00ffff"/>
<path d="M418.5 486.8L421.5 483.8L424.5 486.8L421.5 489.8Z" fill="#00ffff"/>
<path d="M419.6 520L422.6 517.0L425.6 520L422.6 523.0Z" fill="#00ffff"/>
<path d="M420.7 553.4L423.7 550.4L426.7 553.4L423.7 556.4Z" fill="#00ffff"/>
<path d="M421.8 585.2L424.8 582.2L427.8 585.2L424.8 588.2Z" fill="#00ffff"/>
<path d="M422.8 615.4L425.8 612.4L428.8 615.4L425.8 618.4Z" fill="#00ffff"/>
<path d="M423.9 645.9L426.9 642.9L429.9 645.9L426.9 648.9Z" fill="#00ffff"/>
<path d="M425.0 675.8L428.0 672.8L431.0 675.8L428.0 678.8Z" fill="#00ffff"/>
<path d="M426.1 704.6L429.1 701.6L432.1 704.6L429.1 707.6Z" fill="#00ffff"/>
<path d="M427.2 733.9L430.2 730.9L433.2 733.9L430.2 736.9Z" fill="#00ffff"/>
<path d="M428.3 762L431.3 759.0L434.3 762L431.3 765.0Z" fill="#00ffff"/>
<path d="M429.3 790L432.3 787.0L435.3 790L432.3 793.0Z" fill="#00ffff"/>
<path d="M430.4 816.8L433.4 813.8L436.4 816.8L433.4 819.8Z" fill="#00ffff"/>
<path d="M431.5 843.7L434.5 840.7L437.5 843.7L434.5 846.7Z" fill="#00ffff"/>
<path d="M432.6 870.5L435.6 867.5L438.6 870.5L435.6 873.5Z" fill="#00ffff"/>
<path d="M433.7 897.8L436.7 894.8L439.7 897.8L436.7 900.8Z" fill="#00ffff"/>
<path d="M434.7 924.8L437.7 921.8L440.7 924.8L437.7 927.8Z" fill="#00ffff"/>
<path d="M435.8 951.4L438.8 948.4L441.8 951.4L438.8 954.4Z" fill="#00ffff"/>
<path d="M436.9 978.5L439.9 975.5L442.9 978.5L439.9 981.5Z" fill="#00ffff"/>
<path d="M438.0 1006.1L441.0 1003.1L444.0 1006.1L441.0 1009.1Z" fill="#00ffff"/>
<path d="M439.1 1033.4L442.1 1030.4L445.1 1033.4L442.1 1036.4Z" fill="#00ffff"/>
<path d="M440.1 1062.3L443.1 1059.3L446.1 1062.3L443.1 1065.3Z" fill="#00ffff"/>
<path d="M441.2 1089.6L444.2 1086.6L447.2 1089.6L444.2 1092.6Z" fill="#00ffff"/>
<path d="M442.3 1118.6L445.3 1115.6L448.3 1118.6L445.3 1121.6Z" fill="#00ffff"/>
<path d="M443.4 1148.1L446.4 1145.1L449.4 1148.1L446.4 1151.1Z" fill="#00ffff"/>
<path d="M444.5 1177.1L447.5 1174.1L450.5 1177.1L447.5 1180.1Z" fill="#00ffff"/>
<path d="M445.5 1207.9L448.5 1204.9L451.5 1207.9L448.5 1210.9Z" fill="#00ffff"/>
<path d="M446.6 1239.1L449.6 1236.1L452.6 1239.1L449.6 1242.1Z" fill="#00ffff"/>
<path d="M447.7 1270L450.7 1267.0L453.7 1270L450.7 1273.0Z" fill="#00ffff"/>
<path d="M448.8 1301.9L451.8 1298.9L454.8 1301.9L451.8 1304.9Z" fill="#00ffff"/>
<path d="M449.9 1334L452.9 1331.0L455.9 1334L452.9 1337.0Z" fill="#00ffff"/>
<path d="M451.0 1366.7L454.0 1363.7L457.0 1366.7L454.0 1369.7Z" fill="#00ffff"/>
<path d="M452.0 1399.9L455.0 1396.9L458.0 1399.9L455.0 1402.9Z" fill="#00ffff"/>
<path d="M356.8 1432.0L356.9 1416.0L357.1 1400.0L357.3 1384.0L357.5 1368.0L357.7 1352.0L357.9 1336.0L358.1 1320.0L358.3 1304.0L358.5 1288.0L358.8 1272.0L359.0 1256.0L359.2 1240.0L359.4 1224.0L359.6 1208.0L359.9 1192.0L360.1 1176.0L360.4 1160.0L360.7 1144.0L361.0 1128.0L361.2 1112.0L361.5 1096.0L361.8 1080.0L362.1 1064.0L362.4 1048.0L362.7 1032.0L363.0 1016.0L363.4 1000.0L363.7 984.0L364.0 968.0L364.4 952.0L364.7 936.0L365.1 920.0L365.4 904.0L365.8 888.0L366.2 872.0L366.6 856.0L367.0 840.0L367.4 824.0L367.8 808.0L368.2 792.0L368.6 776.0L369.0 760.0L369.5 744.0L369.9 728.0L370.3 712.0L370.7 696.0L371.2 680.0L371.6 664.0L372.0 648.0L372.4 632.0L372.9 616.0L373.3 600.0L373.7 584.0L374.2 568.0L374.6 552.0L375.1 536.0L375.5 520.0L376.0 504.0L376.4 488.0L376.9 472.0L377.4 456.0L377.8 440.0L378.3 424.0L378.8 408.0L379.2 392.0L379.7 376.0L380.2 360.0L380.7 344.0L381.1 328.0L381.6 312.0L382.1 296.0L382.2 312.0L382.3 328.0L382.4 344.0L382.6 360.0L382.7 376.0L382.9 392.0L383.1 408.0L383.3 424.0L383.5 440.0L383.7 456.0L384.0 472.0L384.2 488.0L384.5 504.0L384.7 520.0L385.0 536.0L385.2 552.0L385.5 568.0L385.7 584.0L386.0 600.0L386.3 616.0L386.6 632.0L386.9 648.0L387.1 664.0L387.4 680.0L387.7 696.0L388.0 712.0L388.3 728.0L388.6 744.0L388.9 760.0L389.2 776.0L389.5 792.0L389.8 808.0L390.1 824.0L390.4 840.0L390.7 856.0L391.0 872.0L391.3 888.0L391.7 904.0L392.0 920.0L392.3 936.0L392.6 952.0L392.9 968.0L393.2 984.0L393.5 1000.0L393.8 1016.0L394.1 1032.0L394.4 1048.0L394.7 1064.0L395.0 1080.0L395.3 1096.0L395.6 1112.0L395.9 1128.0L396.2 1144.0L396.5 1160.0L396.8 1176.0L397.0 1192.0L397.3 1208.0L397.6 1224.0L397.8 1240.0L398.1 1256.0L398.4 1272.0L398.6 1288.0L398.9 1304.0L399.2 1320.0L399.4 1336.0L399.7 1352.0L399.9 1368.0L400.2 1384.0L400.4 1400.0L400.7 1416.0L400.9 1432.0" fill="none" stroke="#e6ab02" stroke-width="8" stroke-linejoin="round"/>
<path d="M359.1 1412.7L359.1 1418.7L353.9 1415.7Z" fill="#ff00ff"/>
<path d="M359.7 1369.0L359.7 1375.0L354.5 1372Z" fill="#ff00ff"/>
<path d="M360.2 1326.5L360.2 1332.5L355.0 1329.5Z" fill="#ff00ff"/>
<path d="M360.7 1286.6L360.7 1292.6L355.5 1289.6Z" fill="#ff00ff"/>
<path d="M361.2 1247.7L361.2 1253.7L356.0 1250.7Z" fill="#ff00ff"/>
<path d="M361.8 1210.4L361.8 1216.4L356.6 1213.4Z" fill="#ff00ff"/>
<path d="M362.3 1176.6L362.3 1182.6L357.1 1179.6Z" fill="#ff00ff"/>
<path d="M362.8 1144.5L362.8 1150.5L357.6 1147.5Z" fill="#ff00ff"/>
<path d="M363.3 1114.9L363.3 1120.9L358.1 1117.9Z" fill="#ff00ff"/>
<path d="M363.9 1085.0L363.9 1091.0L358.7 1088Z" fill="#ff00ff"/>
<path d="M364.4 1056.8L364.4 1062.8L359.2 1059.8Z" fill="#ff00ff"/>
<path d="M364.9 1029.4L364.9 1035.4L359.7 1032.4Z" fill="#ff00ff"/>
<path d="M365.4 1003.0L365.4 1009.0L360.2 1006Z" fill="#ff00ff"/>
<path d="M366.0 977.3L366.0 983.3L360.8 980.3Z" fill="#ff00ff"/>
<path d="M366.5 952.9L366.5 958.9L361.3 955.9Z" fill="#ff00ff"/>
<path d="M367.0 929.0L367.0 935.0L361.8 932Z" fill="#ff00ff"/>
<path d="M367.5 905.8L367.5 911.8L362.3 908.8Z" fill="#ff00ff"/>
<path d="M368.1 883.3L368.1 889.3L362.9 886.3Z" fill="#ff00ff"/>
<path d="M368.6 861.9L368.6 867.9L363.4 864.9Z" fill="#ff00ff"/>
<path d="M369.1 840.5L369.1 846.5L363.9 843.5Z" fill="#ff00ff"/>
<path d="M369.6 819.4L369.6 825.4L364.4 822.4Z" fill="#ff00ff"/>
<path d="M370.2 798.7L370.2 804.7L365.0 801.7Z" fill="#ff00ff"/>
<path d="M370.7 778.7L370.7 784.7L365.5 781.7Z" fill="#ff00ff"/>
<path d="M371.2 758.5L371.2 764.5L366.0 761.5Z" fill="#ff00ff"/>
<path d="M371.7 738.7L371.7 744.7L366.5 741.7Z" fill="#ff00ff"/>
<path d="M372.2 718.7L372.2 724.7L367.0 721.7Z" fill="#ff00ff"/>
<path d="M372.8 699.2L372.8 705.2L367.6 702.2Z" fill="#ff00ff"/>
<path d="M373.3 679.2L373.3 685.2L368.1 682.2Z" fill="#ff00ff"/>
<path d="M373.8 659.4L373.8 665.4L368.6 662.4Z" fill="#ff00ff"/>
<path d="M374.3 639.9L374.3 645.9L369.1 642.9Z" fill="#ff00ff"/>
<path d="M374.9 620.7L374.9 626.7L369.7 623.7Z" fill="#ff00ff"/>
<path d="M375.4 601.6L375.4 607.6L370.2 604.6Z" fill="#ff00ff"/>
<path d="M375.9 582.0L375.9 588.0L370.7 585Z" fill="#ff00ff"/>
<path d="M376.4 563.6L376.4 569.6L371.2 566.6Z" fill="#ff00ff"/>
<path d="M377.0 544.6L377.0 550.6L371.8 547.6Z" fill="#ff00ff"/>
<path d="M377.5 525.8L377.5 531.8L372.3 528.8Z" fill="#ff00ff"/>
<path d="M378.0 506.5L378.0 512.5L372.8 509.5Z" fill="#ff00ff"/>
<path d="M378.5 488.7L378.5 494.7L373.3 491.7Z" fill="#ff00ff"/>
<path d="M379.1 470.4L379.1 476.4L373.9 473.4Z" fill="#ff00ff"/>
<path d="M379.6 452.4L379.6 458.4L374.4 455.4Z" fill="#ff00ff"/>
<path d="M380.1 434.6L380.1 440.6L374.9 437.6Z" fill="#ff00ff"/>
<path d="M380.6 416.5L380.6 422.5L375.4 419.5Z" fill="#ff00ff"/>
<path d="M381.2 398.7L381.2 404.7L376.0 401.7Z" fill="#ff00ff"/>
<path d="M381.7 380.3L381.7 386.3L376.5 383.3Z" fill="#ff00ff"/>
<path d="M382.2 363.3L382.2 369.3L377.0 366.3Z" fill="#ff00ff"/>
<path d="M382.7 345.2L382.7 351.2L377.5 348.2Z" fill="#ff00ff"/>
<path d="M383.3 327.5L383.3 333.5L378.1 330.5Z" fill="#ff00ff"/>
<path d="M383.8 310.3L383.8 316.3L378.6 313.3Z" fill="#ff00ff"/>
<path d="M384.3 293.0L384.3 299.0L379.1 296Z" fill="#ff00ff"/>
<path d="M384.8 361.6L384.8 367.6L379.6 364.6Z" fill="#ff00ff"/>
<path d="M385.3 408.3L385.3 414.3L380.1 411.3Z" fill="#ff00ff"/>
<path d="M385.9 447.7L385.9 453.7L380.7 450.7Z" fill="#ff00ff"/>
<path d="M386.4 483.8L386.4 489.8L381.2 486.8Z" fill="#ff00ff"/>
<path d="M386.9 517.0L386.9 523.0L381.7 520Z" fill="#ff00ff"/>
<path d="M387.4 550.4L387.4 556.4L382.2 553.4Z" fill="#ff00ff"/>
<path d="M388.0 582.2L388.0 588.2L382.8 585.2Z" fill="#ff00ff"/>
<path d="M388.5 612.4L388.5 618.4L383.3 615.4Z" fill="#ff00ff"/>
<path d="M389.0 642.9L389.0 648.9L383.8 645.9Z" fill="#ff00ff"/>
<path d="M389.5 672.8L389.5 678.8L384.3 675.8Z" fill="#ff00ff"/>
<path d="M390.1 701.6L390.1 707.6L384.9 704.6Z" fill="#ff00ff"/>
<path d="M390.6 730.9L390.6 736.9L385.4 733.9Z" fill="#ff00ff"/>
<path d="M391.1 759.0L391.1 765.0L385.9 762Z" fill="#ff00ff"/>
<path d="M391.6 787.0L391.6 793.0L386.4 790Z" fill="#ff00ff"/>
<path d="M392.2 813.8L392.2 819.8L387.0 816.8Z" fill="#ff00ff"/>
<path d="M392.7 840.7L392.7 846.7L387.5 843.7Z" fill="#ff00ff"/>
<path d="M393.2 867.5L393.2 873.5L388.0 870.5Z" fill="#ff00ff"/>
<path d="M393.7 894.8L393.7 900.8L388.5 897.8Z" fill="#ff00ff"/>
<path d="M394.3 921.8L394.3 927.8L389.1 924.8Z" fill="#ff00ff"/>
<path d="M394.8 948.4L394.8 954.4L389.6 951.4Z" fill="#ff00ff"/>
<path d="M395.3 975.5L395.3 981.5L390.1 978.5Z" fill="#ff00ff"/>
<path d="M395.8 1003.1L395.8 1009.1L390.6 1006.1Z" fill="#ff00ff"/>
<path d="M396.4 1030.4L396.4 1036.4L391.2 1033.4Z" fill="#ff00ff"/>
<path d="M396.9 1059.3L396.9 1065.3L391.7 1062.3Z" fill="#ff00ff"/>
<path d="M397.4 1086.6L397.4 1092.6L392.2 1089.6Z" fill="#ff00ff"/>
<path d="M397.9 1115.6L397.9 1121.6L392.7 1118.6Z" fill="#ff00ff"/>
<path d="M398.4 1145.1L398.4 1151.1L393.2 1148.1Z" fill="#ff00ff"/>
<path d="M399.0 1174.1L399.0 1180.1L393.8 1177.1Z" fill="#ff00ff"/>
<path d="M399.5 1204.9L399.5 1210.9L394.3 1207.9Z" fill="#ff00ff"/>
<path d="M400.0 1236.1L400.0 1242.1L394.8 1239.1Z" fill="#ff00ff"/>
<path d="M400.5 1267.0L400.5 1273.0L395.3 1270Z" fill="#ff00ff"/>
<path d="M401.1 1298.9L401.1 1304.9L395.9 1301.9Z" fill="#ff00ff"/>
<path d="M401.6 1331.0L401.6 1337.0L396.4 1334Z" fill="#ff00ff"/>
<path d="M402.1 1363.7L402.1 1369.7L396.9 1366.7Z" fill="#ff00ff"/>
<path d="M402.6 1396.9L402.6 1402.9L397.4 1399.9Z" fill="#ff00ff"/>
</g>
<text class="tk" x="319.5" y="93.0" text-anchor="end">0.2</text>
<text class="tk" x="319.5" y="318.7" text-anchor="end">0.0</text>
<text class="tk" x="319.5" y="545.3" text-anchor="end">-0.2</text>
<text class="tk" x="319.5" y="770.0" text-anchor="end">-0.4</text>
<text class="tk" x="319.5" y="995.7" text-anchor="end">-0.6</text>
<text class="tk" x="319.5" y="1221.3" text-anchor="end">-0.8</text>
<text class="tk" x="319.5" y="1448.0" text-anchor="end">-1.0</text>
<text class="tk" x="350.5" y="1518" text-anchor="middle">0</text>
<text class="tk" x="762.6" y="1518" text-anchor="middle">200</text>
<text class="tk" x="1174.7" y="1518" text-anchor="middle">400</text>
<text class="tk" x="1586.8" y="1518" text-anchor="middle">600</text>
<text class="tk" x="1998.9" y="1518" text-anchor="middle">800</text>
<text class="tt" transform="translate(1279.3 1648) scale(1.013 1)" text-anchor="middle">Time (s)</text>
<text class="ty" transform="translate(157 712) rotate(-90)" text-anchor="middle">Potential (V)</text>
<rect x="1687" y="439" width="164" height="8" fill="#1b9e77" shape-rendering="crispEdges"/>
<rect x="1767.0" y="441.0" width="4" height="4" fill="#000000"/>
<text class="lg" transform="translate(1874 467.0) scale(0.98 1)" xml:space="preserve">1  A/g</text>
<rect x="1687" y="555" width="164" height="8" fill="#d95f02" shape-rendering="crispEdges"/>
<circle cx="1769" cy="559" r="2.3" fill="#ff0000"/>
<text class="lg" transform="translate(1874 583.9) scale(0.98 1)" xml:space="preserve">3  A/g</text>
<rect x="1687" y="670" width="164" height="7" fill="#7570b3" shape-rendering="crispEdges"/>
<path d="M1766.0 676.2L1772.0 676.2L1769 671.0Z" fill="#00ff00"/>
<text class="lg" transform="translate(1874 698.0) scale(0.98 1)" xml:space="preserve">5  A/g</text>
<rect x="1687" y="784" width="164" height="8" fill="#e7298a" shape-rendering="crispEdges"/>
<path d="M1766.0 785.8L1772.0 785.8L1769 791.0Z" fill="#0000ff"/>
<text class="lg" transform="translate(1874 813.0) scale(0.98 1)" xml:space="preserve">8  A/g</text>
<rect x="1687" y="899" width="164" height="7" fill="#66a61e" shape-rendering="crispEdges"/>
<path d="M1766.0 903L1769 900.0L1772.0 903L1769 906.0Z" fill="#00ffff"/>
<text class="lg" transform="translate(1874 926.5) scale(0.98 1)" xml:space="preserve">10A/g</text>
<rect x="1687" y="1013" width="164" height="8" fill="#e6ab02" shape-rendering="crispEdges"/>
<path d="M1771.2 1014.0L1771.2 1020.0L1766.0 1017Z" fill="#ff00ff"/>
<text class="lg" transform="translate(1874 1041.0) scale(0.98 1)" xml:space="preserve">15A/g</text>
</svg></body></html>
